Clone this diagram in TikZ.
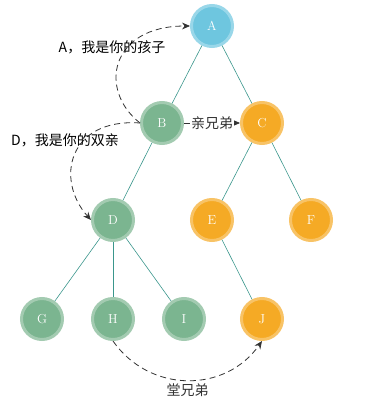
\documentclass[tikz,border=0pt]{standalone}
\usepackage{fontspec}
\newfontfamily\cjk{Noto Sans CJK SC}
\usetikzlibrary{positioning,arrows.meta}

\begin{document}
\begin{tikzpicture}[
  x=1pt, y=-1pt,
  >={Stealth[length=2.8mm, width=2.4mm]},
  vertex/.style={circle, draw=#1!70!white, fill=#1, line width=3pt,
                 minimum size=41pt, inner sep=0pt, text=white,
                 font=\fontsize{13}{15}\selectfont},
  link/.style={draw=edgeteal, line width=0.6pt},
  talk/.style={->, dash pattern=on 6pt off 4pt, line width=0.8pt, black!80},
  say/.style={font=\cjk\fontsize{14}{16}\selectfont, inner sep=1pt},
]
\definecolor{nodeblue}{HTML}{6EC6DF}
\definecolor{nodegreen}{HTML}{7BB590}
\definecolor{nodeorange}{HTML}{F5AA25}
\definecolor{edgeteal}{HTML}{3A968C}

\useasboundingbox (0,0) rectangle (368,412);

% ---- tree ----
\node[vertex=nodeblue]   (a) at (212,26)  {A};
\node[vertex=nodegreen]  (b) at (162,123) {B};
\node[vertex=nodeorange] (c) at (262,123) {C};
\node[vertex=nodegreen]  (d) at (113,220) {D};
\node[vertex=nodeorange] (e) at (212,220) {E};
\node[vertex=nodeorange] (f) at (311,220) {F};
\node[vertex=nodegreen]  (g) at (42,319)  {G};
\node[vertex=nodegreen]  (h) at (113,319) {H};
\node[vertex=nodegreen]  (i) at (184,319) {I};
\node[vertex=nodeorange] (j) at (262,319) {J};

\draw[link] (a) -- (b);
\draw[link] (a) -- (c);
\draw[link] (b) -- (d);
\draw[link] (c) -- (e);
\draw[link] (c) -- (f);
\draw[link] (d) -- (g);
\draw[link] (d) -- (h);
\draw[link] (d) -- (i);
\draw[link] (e) -- (j);

% ---- relations ----
\draw[talk] (b.west) .. controls +(-42,-33) and +(-80,0) .. (a.west);
\draw[talk] (b.west) .. controls +(-72,-5) and +(-36,-40) .. (d.west);
\draw[talk] (b.east) -- (c.west) node[midway, fill=white, say] (bro) {亲兄弟};
\draw[talk] (h.south) to[out=-55,in=-125,looseness=1.1]
  node[midway, below=2pt, say] (cousin) {堂兄弟} (j.south);

\node[say] (child) at (112,47) {A，我是你的孩子};
\node[say] (parent) at (65,140) {D，我是你的双亲};
\end{tikzpicture}
\end{document}
